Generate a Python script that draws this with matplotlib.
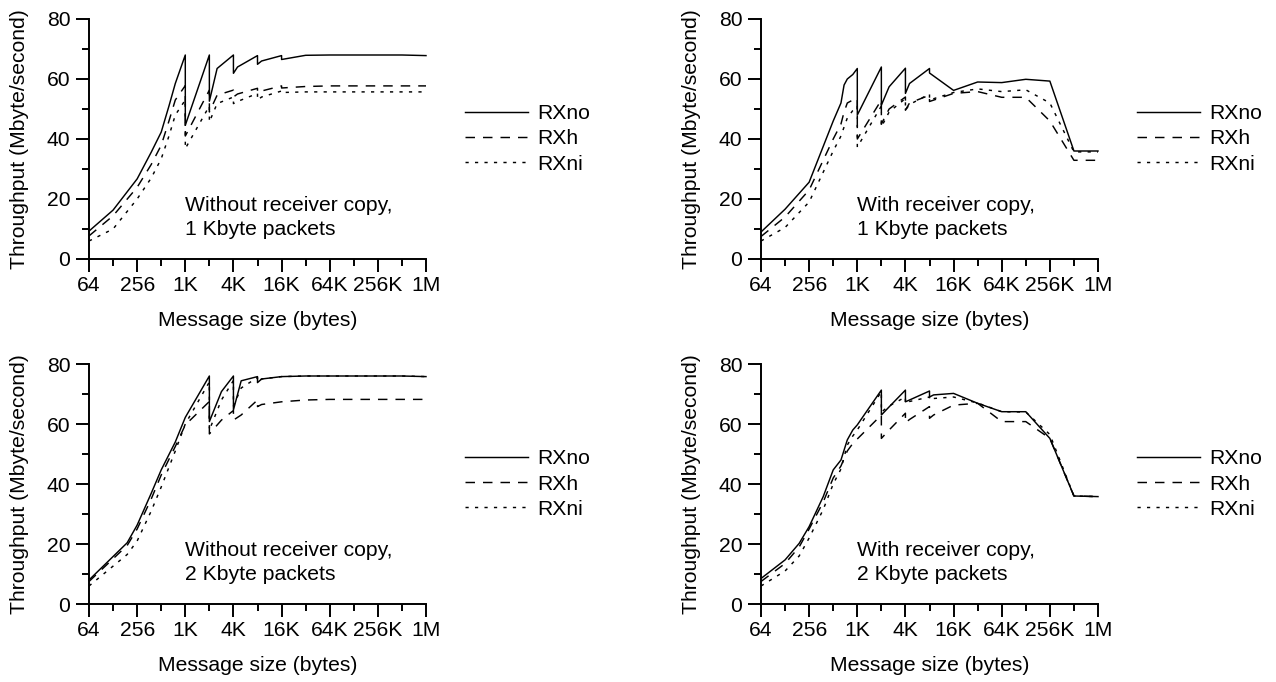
import matplotlib
matplotlib.use("Agg")
import matplotlib.pyplot as plt
from matplotlib.ticker import NullFormatter

plt.rcParams['font.family'] = ['Liberation Sans', 'DejaVu Sans']
plt.rcParams['font.size'] = 15.2

# message sizes (bytes) and throughput (Mbyte/s)
x1 = [64, 128, 256, 384, 512, 640, 768, 1024, 1025, 2048, 2049, 2560, 4096, 4097, 4608,
      8192, 8193, 9216, 16384, 16385, 32768, 65536, 131072, 262144, 524288, 1048576]
rxno1 = [9.3, 16.3, 26.7, 35.6, 42.3, 51, 58.5, 68, 44.6, 68, 52.6, 63.5, 68, 61.9, 64,
         67.8, 64.9, 66, 67.8, 66.5, 67.9, 68, 68, 68, 68, 67.8]
rxh1 = [7.7, 14.4, 23.9, 31.5, 37.9, 46, 53, 57.8, 41, 56.3, 49, 54.6, 56.3, 54, 55,
        56.9, 55.5, 56, 57.7, 57, 57.5, 57.7, 57.7, 57.7, 57.7, 57.7]
rxni1 = [6, 10, 20, 27, 33.4, 41, 48, 53, 36.8, 51, 45.7, 51.8, 54, 51.8, 52.5,
         55.2, 53, 54, 56, 55.5, 55.7, 55.7, 55.7, 55.7, 55.7, 55.7]

x2 = [64, 128, 256, 512, 640, 700, 768, 900, 1024, 1025, 2048, 2049, 2560, 4096, 4097,
      4608, 8192, 8193, 16384, 32768, 65536, 131072, 262144, 524288, 1048576]
rxno2 = [9, 16.6, 25.6, 46, 52, 58, 60, 61.5, 63.5, 48, 64, 51.3, 57.4, 63.6, 55.2,
         58.5, 63.5, 62, 56.2, 59, 58.8, 59.9, 59.3, 36, 36]
rxh2 = [7.5, 14, 23, 40, 45, 49, 52, 53, 53.5, 40, 53, 45, 50, 54, 49.6,
        52, 54.6, 52.5, 55.2, 55.8, 53.9, 53.9, 46, 32.9, 32.9]
rxni2 = [6, 10.5, 19, 36, 41, 44, 47, 49.5, 51, 37.3, 51, 44, 49, 53.5, 49.6,
         51.5, 55, 53, 55.5, 56.7, 55.8, 56.4, 52, 35.7, 35.7]

x3 = [64, 192, 256, 384, 512, 768, 1024, 2048, 2049, 2900, 4096, 4097, 5120, 8192, 8193,
      9216, 16384, 32768, 65536, 131072, 262144, 524288, 1048576]
rxno3 = [8, 20.4, 26.3, 36.9, 44.7, 54, 62.2, 76, 60.8, 70.8, 76, 64.7, 74.4, 75.8, 73.8,
         75, 75.8, 76, 76, 76, 76, 76, 75.8]
rxh3 = [7.5, 19.5, 25, 35, 43, 52.5, 59.7, 67.5, 56.7, 61.3, 64.5, 61.3, 63, 68, 65.8,
        66.5, 67.4, 68, 68.2, 68.2, 68.2, 68.2, 68.2]
rxni3 = [6, 16.5, 21, 31, 39, 51, 60, 74, 58, 68, 74.5, 66, 72, 75.5, 74,
         75, 75.8, 76, 76, 76, 76, 76, 75.8]

x4 = [64, 128, 192, 256, 384, 512, 640, 768, 900, 1024, 2048, 2049, 2560, 4096, 4097,
      4608, 8192, 8193, 9216, 16384, 32768, 65536, 131072, 262144, 524288, 1048576]
rxno4 = [8.5, 14.7, 20.2, 25.8, 35.8, 44.7, 48, 54.7, 58, 59.7, 71.3, 63, 65.7, 71.3, 67.4,
         68, 71, 69, 69.7, 70.2, 66.9, 64.1, 64.1, 55.2, 36, 35.8]
rxh4 = [7.5, 13.5, 19, 25, 34, 42, 46, 51, 53.5, 55, 63, 55.2, 58, 63.6, 60.4,
        61.5, 65.8, 61.9, 63, 66.3, 66.9, 60.8, 60.8, 55.2, 36, 35.8]
rxni4 = [6, 11, 16, 22, 31.5, 40, 45, 53, 56, 58, 70.8, 64, 66, 69, 66.7,
         67.5, 69, 68, 68.5, 69, 67, 64.1, 64, 56.5, 36, 35.8]

panels = [
    (x1, rxno1, rxh1, rxni1, "Without receiver copy,\n1 Kbyte packets"),
    (x2, rxno2, rxh2, rxni2, "With receiver copy,\n1 Kbyte packets"),
    (x3, rxno3, rxh3, rxni3, "Without receiver copy,\n2 Kbyte packets"),
    (x4, rxno4, rxh4, rxni4, "With receiver copy,\n2 Kbyte packets"),
]

major_x = [2 ** k for k in range(6, 21, 2)]
minor_x = [2 ** k for k in range(7, 20, 2)]
major_labels = ['64', '256', '1K', '4K', '16K', '64K', '256K', '1M']

W, H = 1276, 682
fig = plt.figure(figsize=(W / 100, H / 100), dpi=100)
boxes = [(89, 19), (761, 19), (89, 364), (761, 364)]

for (xs, no, h, ni, note), (px, py) in zip(panels, boxes):
    ax = fig.add_axes([px / W, 1 - (py + 240) / H, 337 / W, 240 / H])
    ax.plot(xs, no, color='black', lw=1.05, label='RXno', clip_on=False)
    ax.plot(xs, h, color='black', lw=1.05, ls=(0, (6.5, 5.5)), label='RXh', clip_on=False)
    ax.plot(xs, ni, color='black', lw=1.05, ls=(0, (2.2, 4.3)), label='RXni', clip_on=False)

    ax.set_xscale('log', base=2)
    ax.set_xlim(64, 1048576)
    ax.set_ylim(0, 80)
    ax.set_xticks(major_x, major_labels)
    ax.set_xticks(minor_x, minor=True)
    ax.xaxis.set_minor_formatter(NullFormatter())
    ax.set_yticks([0, 20, 40, 60, 80])
    ax.set_yticks([10, 30, 50, 70], minor=True)

    for s in ['top', 'right']:
        ax.spines[s].set_visible(False)
    for s in ['left', 'bottom']:
        ax.spines[s].set_linewidth(1.4)
    ax.tick_params(which='major', direction='out', length=9.4, width=1.4)
    ax.tick_params(which='minor', direction='out', length=4.7, width=1.4)
    ax.tick_params(axis='x', which='major', pad=3)
    ax.tick_params(axis='y', which='major', pad=4)

    ax.set_xlabel('Message size (bytes)', va='center')
    ax.xaxis.set_label_coords(0.5, -0.255)
    ax.set_ylabel('Throughput (Mbyte/second)', va='center')
    ax.yaxis.set_label_coords(-0.207, 0.5)

    ax.text(0.285, 0.172, note, transform=ax.transAxes, ha='left', va='center',
            linespacing=1.3)

    ax.legend(loc='center left', bbox_to_anchor=(1.116, 0.5), frameon=False,
              borderpad=0, borderaxespad=0, handlelength=3.0, handletextpad=0.42,
              labelspacing=0.29)

fig.savefig('out.png', dpi=100)
